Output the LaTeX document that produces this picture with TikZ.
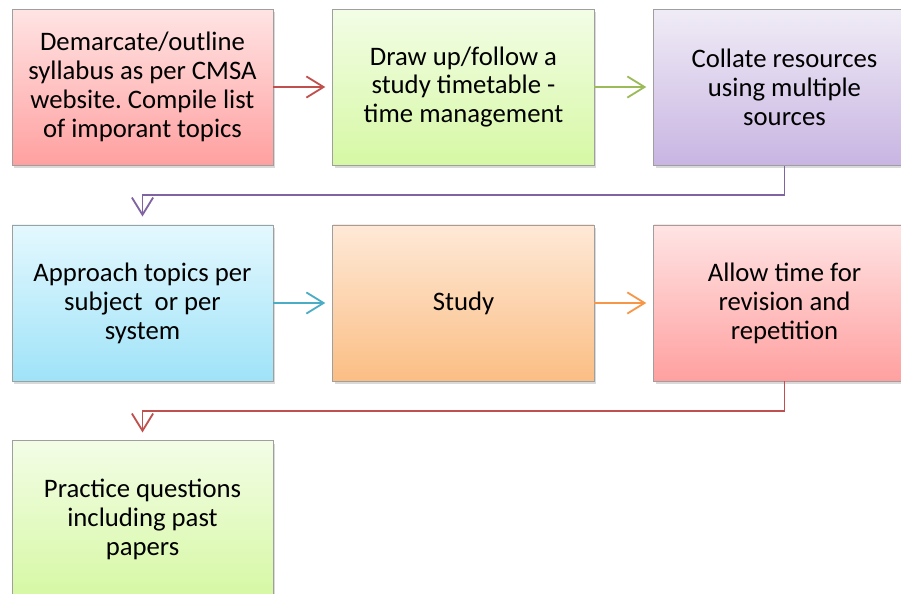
\documentclass[tikz,border=0pt]{standalone}
\usepackage{fontspec}
\setmainfont{Carlito}
\usetikzlibrary{positioning,arrows.meta,shadows}
\frenchspacing

\definecolor{redtop}{HTML}{FFE4E4}
\definecolor{redbot}{HTML}{FFA0A0}
\definecolor{greentop}{HTML}{F3FDE6}
\definecolor{greenbot}{HTML}{D6F8A4}
\definecolor{purpletop}{HTML}{F0ECF6}
\definecolor{purplebot}{HTML}{C8B5E2}
\definecolor{bluetop}{HTML}{E4F8FE}
\definecolor{bluebot}{HTML}{9FE3F8}
\definecolor{orangetop}{HTML}{FEE9D7}
\definecolor{orangebot}{HTML}{FBBE84}
\definecolor{redline}{HTML}{C0504D}
\definecolor{greenline}{HTML}{9BBB59}
\definecolor{purpleline}{HTML}{8064A2}
\definecolor{blueline}{HTML}{4BACC6}
\definecolor{orangeline}{HTML}{F79646}

\begin{document}
\begin{tikzpicture}[
    node distance=1.475cm,
    stepbox/.style={draw=gray!75,line width=0.7pt,minimum width=6.525cm,minimum height=3.9cm,
      align=center,font=\fontsize{19}{20.6}\selectfont,
      drop shadow={shadow xshift=0.05cm,shadow yshift=-0.07cm,opacity=0.3}},
    flow/.style={line width=1.3pt,-{Straight Barb[length=4.3mm,width=5.3mm,line width=1.3pt]}}
  ]
      % page is 901 x 593 px, 1 px = 0.025 cm
      \useasboundingbox (0,0) rectangle (22.525,-14.825);
      \clip (0,0) rectangle (22.525,-14.825);
      \node[stepbox,top color=redtop,bottom color=redbot] (syllabus) at (3.5625,-2.175)
        {Demarcate/outline\\syllabus as per CMSA\\website. Compile list\\of imporant topics};
      \node[stepbox,top color=greentop,bottom color=greenbot,right=of syllabus] (timetable)
        {Draw up/follow a\\study timetable -\\time management};
      \node[stepbox,top color=purpletop,bottom color=purplebot,right=of timetable] (resources)
        {Collate resources\\using multiple\\sources};
      \node[stepbox,top color=bluetop,bottom color=bluebot,below=of syllabus] (approach)
        {Approach topics per\\subject~ or per\\system};
      \node[stepbox,top color=orangetop,bottom color=orangebot,right=of approach] (study)
        {Study};
      \node[stepbox,top color=redtop,bottom color=redbot,right=of study] (revision)
        {Allow time for\\revision and\\repetition};
      \node[stepbox,top color=greentop,bottom color=greenbot,below=of approach] (practice)
        {Practice questions\\including past\\papers};
      \draw[flow,redline,shorten >=0.18cm] (syllabus) -- (timetable);
      \draw[flow,greenline,shorten >=0.18cm] (timetable) -- (resources);
      \draw[flow,purpleline,shorten >=0.2cm] (resources.south) -- ++(0,-0.74) -| (approach.north);
      \draw[flow,blueline,shorten >=0.18cm] (approach) -- (study);
      \draw[flow,orangeline,shorten >=0.18cm] (study) -- (revision);
      \draw[flow,redline,shorten >=0.2cm] (revision.south) -- ++(0,-0.74) -| (practice.north);
    \end{tikzpicture}
\end{document}
